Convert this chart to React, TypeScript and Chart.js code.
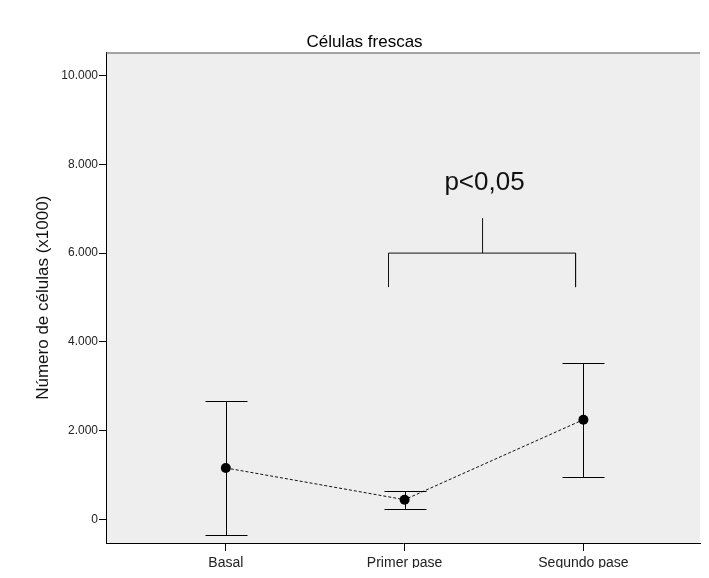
import React, { useEffect, useRef } from "react";
import { Chart, registerables } from "chart.js";

Chart.register(...registerables);

const categories = ["Basal", "Primer pase", "Segundo pase"];
const means = [1164, 450, 2251];
const upper = [2678, 637, 3527];
const lower = [-338, 248, 968];
const yTicks = [0, 2000, 4000, 6000, 8000, 10000];
const chartTitle = "Células frescas";
const yTitle = "Número de células (x1000)";
const pLabel = "p<0,05";
// significance bracket (category-index x, value y)
const bracketX = [0.91, 1.956];
const bracketStemX = 1.436;
const bracketLowY = 5235;
const bracketY = 6000;
const bracketTopY = 6787;
const pLabelPos = { x: 1.447, y: 7585 };

const FONT = "'Liberation Sans', Arial, sans-serif";

function fmt(v: number) {
  const s = Math.round(Math.abs(v)).toString();
  const out = s.replace(/\B(?=(\d{3})+(?!\d))/g, ".");
  return (v < 0 ? "-" : "") + out;
}

const decorPlugin = {
  id: "decor",
  beforeDraw(chart: any) {
    const { ctx, chartArea: a } = chart;
    ctx.save();
    ctx.fillStyle = "#eeeeee";
    ctx.fillRect(a.left, a.top, a.right - a.left, a.bottom - a.top);
    ctx.restore();
  },
  afterDatasetsDraw(chart: any) {
    const { ctx, chartArea: a } = chart;
    const xs = chart.scales.x;
    const ys = chart.scales.y;
    ctx.save();
    // top border
    ctx.strokeStyle = "#555555";
    ctx.lineWidth = 1;
    ctx.beginPath();
    ctx.moveTo(a.left, a.top + 0.5);
    ctx.lineTo(a.right, a.top + 0.5);
    ctx.stroke();
    // error bars
    ctx.strokeStyle = "#000000";
    ctx.lineWidth = 1;
    categories.forEach((_, i) => {
      const px = Math.round(xs.getPixelForValue(i)) + 0.5;
      const pu = Math.round(ys.getPixelForValue(upper[i])) + 0.5;
      const pl = Math.round(ys.getPixelForValue(lower[i])) + 0.5;
      ctx.beginPath();
      ctx.moveTo(px, pu);
      ctx.lineTo(px, pl);
      ctx.moveTo(px - 21, pu);
      ctx.lineTo(px + 21, pu);
      ctx.moveTo(px - 21, pl);
      ctx.lineTo(px + 21, pl);
      ctx.stroke();
    });
    // p label
    ctx.fillStyle = "#111111";
    ctx.font = `26px ${FONT}`;
    ctx.textAlign = "center";
    ctx.textBaseline = "middle";
    ctx.fillText(pLabel, xs.getPixelForValue(pLabelPos.x), ys.getPixelForValue(pLabelPos.y));
    // title
    ctx.fillStyle = "#000000";
    ctx.font = `17px ${FONT}`;
    ctx.textBaseline = "alphabetic";
    ctx.fillText(chartTitle, 364.5, 47.3);
    ctx.restore();
  },
};

export default function App() {
  const ref = useRef<HTMLCanvasElement | null>(null);
  useEffect(() => {
    document.body.style.margin = "0";
    const canvas = ref.current;
    if (!canvas) return;
    const lineData = means.map((m, i) => ({ x: i, y: m }));
    const chart = new Chart(canvas, {
      type: "line",
      data: {
        datasets: [
          {
            data: lineData,
            borderColor: "#111111",
            borderWidth: 1,
            borderDash: [3, 2],
            pointRadius: 5,
            pointBackgroundColor: "#000000",
            pointBorderColor: "#000000",
            pointBorderWidth: 0,
            tension: 0,
            order: 0,
          },
          {
            data: [
              { x: bracketX[0], y: bracketLowY },
              { x: bracketX[0], y: bracketY },
              { x: bracketX[1], y: bracketY },
              { x: bracketX[1], y: bracketLowY },
            ],
            borderColor: "#111111",
            borderWidth: 1,
            pointRadius: 0,
            tension: 0,
          },
          {
            data: [
              { x: bracketStemX, y: bracketY },
              { x: bracketStemX, y: bracketTopY },
            ],
            borderColor: "#111111",
            borderWidth: 1,
            pointRadius: 0,
            tension: 0,
          },
        ],
      },
      options: {
        animation: false,
        responsive: false,
        maintainAspectRatio: false,
        layout: { padding: { top: 52.5, right: 9, left: 0, bottom: 0 } },
        plugins: {
          legend: { display: false },
          tooltip: { enabled: false },
          title: { display: false },
        },
        scales: {
          x: {
            type: "linear",
            min: -0.67,
            max: 2.652,
            afterBuildTicks: (s: any) => {
              s.ticks = categories.map((_, i) => ({ value: i }));
            },
            afterFit: (s: any) => {
              s.height = 25;
            },
            ticks: {
              callback: (v: any) => categories[Math.round(Number(v))] ?? "",
              font: { family: FONT, size: 14 },
              color: "#222222",
              padding: 4,
              maxRotation: 0,
              autoSkip: false,
            },
            grid: {
              display: true,
              drawOnChartArea: false,
              drawTicks: true,
              tickLength: 8,
              color: "#000000",
            },
            border: { display: true, color: "#000000", width: 1 },
          },
          y: {
            type: "linear",
            min: -525,
            max: 10515,
            afterBuildTicks: (s: any) => {
              s.ticks = yTicks.map((v) => ({ value: v }));
            },
            afterFit: (s: any) => {
              s.width = 106;
            },
            ticks: {
              callback: (v: any) => fmt(Number(v)),
              font: { family: FONT, size: 12 },
              color: "#222222",
              padding: 1,
            },
            grid: {
              display: true,
              drawOnChartArea: false,
              drawTicks: true,
              tickLength: 7,
              color: "#000000",
            },
            border: { display: true, color: "#000000", width: 1 },
            title: {
              display: true,
              text: yTitle,
              font: { family: FONT, size: 17 },
              color: "#111111",
              padding: { top: 33, bottom: 0 },
            },
          },
        },
      },
      plugins: [decorPlugin],
    } as any);
    return () => chart.destroy();
  }, []);
  return (
    <div style={{ width: 709, height: 568, position: "relative" }}>
      <canvas ref={ref} width={709} height={568} style={{ width: 709, height: 568, display: "block" }} />
    </div>
  );
}
